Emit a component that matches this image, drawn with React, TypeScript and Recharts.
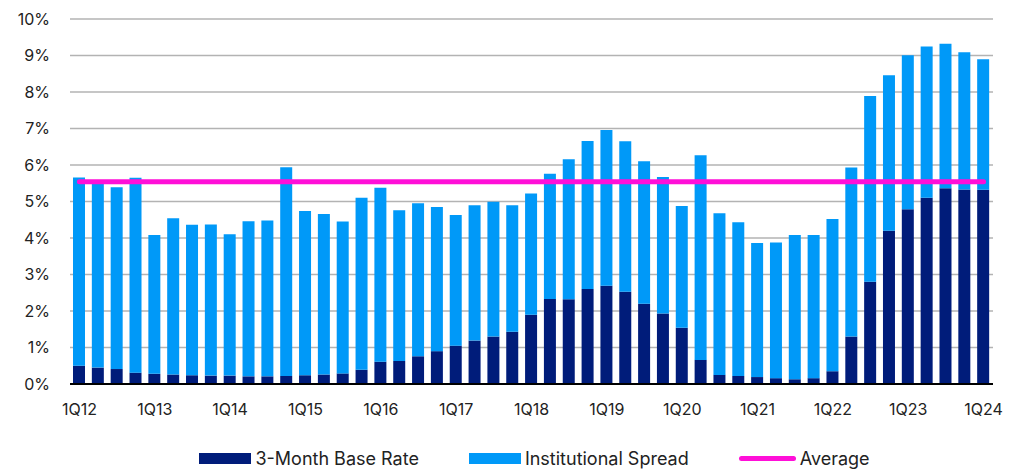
import { Bar, ComposedChart, CartesianGrid, Legend, Line, XAxis, YAxis } from "recharts";

// quarters 1Q12 .. 1Q24
const quarters: string[] = [];
for (let y = 12; y <= 24; y++) {
  for (let q = 1; q <= 4; q++) {
    if (y === 24 && q > 1) break;
    quarters.push(`${q}Q${y}`);
  }
}

const baseRate = [
  0.5, 0.45, 0.41, 0.31, 0.28, 0.26, 0.24, 0.23, 0.23, 0.21, 0.21, 0.22, 0.24, 0.26, 0.29, 0.39,
  0.61, 0.63, 0.76, 0.9, 1.05, 1.19, 1.3, 1.43, 1.9, 2.33, 2.32, 2.6, 2.69, 2.53, 2.2, 1.93,
  1.54, 0.66, 0.25, 0.22, 0.19, 0.16, 0.13, 0.16, 0.35, 1.3, 2.8, 4.2, 4.79, 5.1, 5.36, 5.33,
  5.32,
];

const spread = [
  5.16, 5.1, 4.98, 5.34, 3.8, 4.28, 4.12, 4.14, 3.87, 4.25, 4.27, 5.72, 4.5, 4.4, 4.16, 4.71,
  4.77, 4.13, 4.19, 3.95, 3.58, 3.71, 3.69, 3.47, 3.32, 3.43, 3.84, 4.06, 4.27, 4.12, 3.9, 3.74,
  3.34, 5.61, 4.43, 4.21, 3.67, 3.72, 3.95, 3.92, 4.17, 4.63, 5.09, 4.26, 4.22, 4.15, 3.96, 3.76,
  3.58,
];

const average = 5.54;

const yTicks = [0, 1, 2, 3, 4, 5, 6, 7, 8, 9, 10];

const NAVY = "#001c7a";
const BLUE = "#0099f8";
const MAGENTA = "#ff0fd8";
const FONT = "Inter, 'Noto Sans', sans-serif";

const data = quarters.map((q, i) => ({
  quarter: q,
  base: baseRate[i],
  spread: spread[i],
  avg: average,
}));

const legendItems = [
  { label: "3-Month Base Rate", color: NAVY, kind: "bar" },
  { label: "Institutional Spread", color: BLUE, kind: "bar" },
  { label: "Average", color: MAGENTA, kind: "line" },
];

function ChartLegend() {
  return (
    <div
      style={{
        display: "flex",
        justifyContent: "center",
        gap: 50,
        fontFamily: FONT,
        fontSize: 18,
        color: "#222",
        paddingLeft: 50,
      }}
    >
      {legendItems.map((it) => (
        <div key={it.label} style={{ display: "flex", alignItems: "center", gap: 4 }}>
          {it.kind === "bar" ? (
            <span style={{ width: 52, height: 11, background: it.color, display: "inline-block" }} />
          ) : (
            <span
              style={{ width: 57, height: 5, borderRadius: 3, background: it.color, display: "inline-block" }}
            />
          )}
          <span>{it.label}</span>
        </div>
      ))}
    </div>
  );
}

export default function App() {
  return (
    <div style={{ position: "absolute", left: 0, top: 0, width: 1019, height: 470, background: "#fff" }}>
      <ComposedChart
        width={1019}
        height={470}
        data={data}
        barSize={12}
        margin={{ top: 19, right: 26, left: 10, bottom: 14 }}
      >
        <CartesianGrid vertical={false} stroke="#b3b3b3" strokeWidth={1.5} />
        <XAxis
          dataKey="quarter"
          interval={3}
          height={36}
          tickSize={0}
          tickMargin={20}
          axisLine={{ stroke: "#000", strokeWidth: 2 }}
          tick={{ fill: "#222", fontSize: 16, fontFamily: FONT }}
        />
        <YAxis
          width={60}
          domain={[0, 10]}
          ticks={yTicks}
          tickFormatter={(v) => `${v}%`}
          axisLine={false}
          tickSize={0}
          tickMargin={20}
          tick={{ fill: "#222", fontSize: 16, fontFamily: FONT }}
        />
        <Legend
          height={36}
          wrapperStyle={{ top: 448, bottom: "auto", left: 0, width: 1019 }}
          content={() => <ChartLegend />}
        />
        <Bar dataKey="base" name="3-Month Base Rate" stackId="a" fill={NAVY} isAnimationActive={false} />
        <Bar dataKey="spread" name="Institutional Spread" stackId="a" fill={BLUE} isAnimationActive={false} />
        <Line
          dataKey="avg"
          name="Average"
          stroke={MAGENTA}
          strokeWidth={5}
          strokeLinecap="round"
          dot={false}
          activeDot={false}
          isAnimationActive={false}
        />
      </ComposedChart>
    </div>
  );
}
